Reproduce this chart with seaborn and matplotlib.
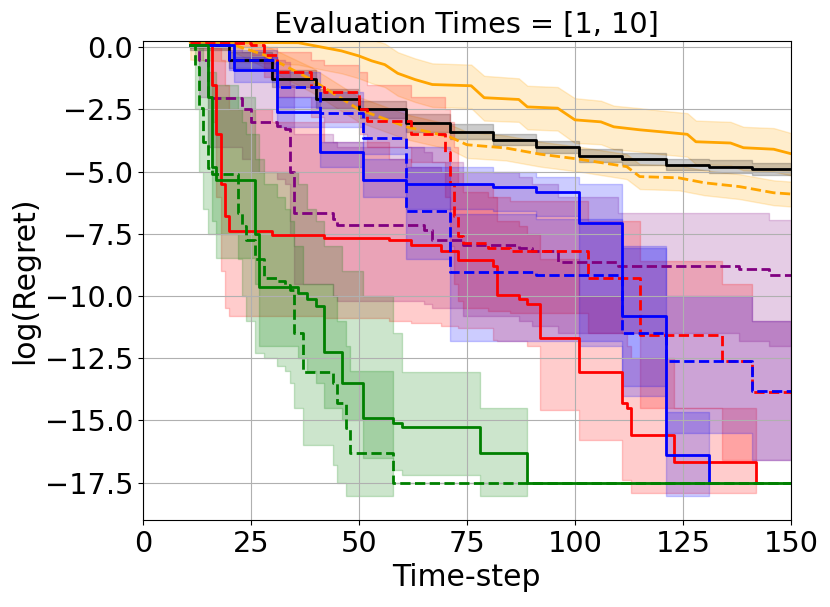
import numpy as np
import pandas as pd
import matplotlib
matplotlib.use("Agg")
import matplotlib.pyplot as plt
import seaborn as sns

# --- data (time-step breakpoints, mean log regret, band low / high) ---
orange_x = [11, 36, 40, 43, 46, 50, 53, 56, 59, 63, 67, 76, 79, 87, 89, 96, 100, 106, 109, 115, 120, 126, 128, 136, 139, 146, 150]
orange_mean = [0.2, 0.18, 0.05, -0.05, -0.15, -0.35, -0.55, -0.7, -1.05, -1.3, -1.5, -1.55, -2.03, -2.1, -2.4, -2.45, -2.92, -3.0, -3.2, -3.32, -3.4, -3.5, -3.8, -3.85, -4.04, -4.1, -4.28]
orange_hi = [0.9, 0.9, 0.85, 0.8, 0.7, 0.5, 0.3, 0.15, -0.2, -0.45, -0.65, -0.7, -1.15, -1.25, -1.55, -1.6, -2.05, -2.15, -2.35, -2.45, -2.55, -2.65, -2.95, -3.0, -3.2, -3.25, -3.45]
orange_lo = [-0.5, -0.7, -0.85, -0.95, -1.05, -1.25, -1.45, -1.6, -1.95, -2.2, -2.4, -2.45, -2.95, -3.0, -3.3, -3.35, -3.85, -3.9, -4.1, -4.2, -4.3, -4.4, -4.7, -4.75, -4.95, -5.0, -5.15]

orange2_x = [11, 20, 28, 39, 50, 61, 71, 75, 84, 92, 101, 112, 115, 124, 130, 138, 146, 150]
orange2_mean = [0.2, 0.15, -0.3, -1.3, -2.5, -3.2, -3.6, -3.92, -4.05, -4.3, -4.5, -4.8, -5.2, -5.25, -5.45, -5.6, -5.85, -5.9]
orange2_hi = [0.25, 0.25, 0.1, -0.8, -2.0, -2.7, -3.1, -3.4, -3.55, -3.8, -4.0, -4.3, -4.7, -4.75, -4.95, -5.1, -5.35, -5.4]
orange2_lo = [0.0, -0.1, -0.8, -1.8, -3.0, -3.7, -4.1, -4.45, -4.55, -4.8, -5.0, -5.3, -5.7, -5.75, -5.95, -6.1, -6.35, -6.4]

black_x = [11, 20, 30, 40, 50, 61, 71, 81, 91, 101, 111, 121, 131, 141, 150]
black_mean = [0.1, -0.53, -1.27, -2.1, -2.5, -3.05, -3.4, -3.72, -4.0, -4.36, -4.5, -4.72, -4.8, -4.9, -4.9]
black_hi = [0.25, -0.2, -0.9, -1.7, -2.15, -2.7, -3.1, -3.5, -3.75, -4.1, -4.25, -4.5, -4.55, -4.65, -4.65]
black_lo = [-0.1, -0.85, -1.6, -2.45, -2.85, -3.4, -3.7, -3.95, -4.25, -4.6, -4.75, -4.95, -5.05, -5.15, -5.15]

purple_x = [11, 13, 15, 23, 25, 31, 33, 34, 35, 44, 45, 65, 67, 74, 87, 90, 96, 110, 138, 145, 150]
purple_mean = [0.1, -0.5, -2.03, -2.5, -3.0, -3.15, -3.3, -5.0, -6.65, -6.9, -7.13, -7.33, -7.73, -7.93, -8.05, -8.2, -8.62, -8.8, -8.9, -9.14, -9.14]
purple_hi = [0.25, 0.2, 0.0, -0.2, -0.4, -0.5, -0.6, -1.5, -3.5, -3.8, -4.0, -4.2, -4.6, -5.0, -5.2, -5.5, -6.0, -6.67, -6.67, -6.93, -6.93]
purple_lo = [0.0, -2.0, -4.0, -4.5, -5.0, -5.3, -5.5, -7.5, -9.5, -10.0, -10.2, -10.3, -10.5, -10.8, -11.0, -11.2, -11.5, -11.5, -11.8, -12.0, -12.0]

red_x = [11, 16, 17, 18, 19, 20, 30, 42, 57, 62, 69, 73, 81, 82, 87, 89, 92, 101, 111, 112, 113, 123, 142]
red_mean = [0.1, -1.5, -3.5, -5.5, -6.8, -7.4, -7.53, -7.65, -7.73, -7.93, -8.2, -8.54, -8.8, -9.95, -10.1, -10.3, -11.67, -13.07, -14.3, -14.48, -15.57, -16.65, -17.5]
red_hi = [0.25, 0.2, 0.0, -0.5, -1.5, -2.5, -3.0, -3.8, -4.5, -4.8, -5.0, -5.5, -6.0, -7.0, -7.2, -7.5, -8.5, -10.0, -11.5, -12.0, -12.5, -14.5, -14.5]
red_lo = [0.0, -3.0, -6.0, -9.0, -10.5, -10.8, -10.8, -10.9, -11.0, -11.1, -11.2, -11.3, -11.75, -11.8, -11.8, -12.0, -14.57, -15.77, -17.4, -17.4, -17.9, -17.9, -17.9]

red2_x = [11, 25, 28, 31, 39, 42, 50, 52, 62, 70, 71, 72, 73, 74, 80, 85, 103, 115, 134, 141, 150]
red2_mean = [0.15, 0.1, -0.3, -1.0, -1.6, -1.8, -2.5, -2.95, -3.5, -4.2, -5.5, -6.8, -7.6, -7.87, -8.06, -8.2, -9.27, -11.55, -12.63, -13.84, -13.9]
red2_hi = [0.25, 0.25, 0.0, -0.2, -0.5, -0.7, -1.0, -1.5, -2.0, -2.5, -3.0, -4.0, -5.0, -5.8, -6.0, -6.2, -7.0, -8.6, -9.5, -11.0, -11.0]
red2_lo = [0.0, -0.3, -1.2, -2.0, -2.8, -3.0, -3.5, -4.0, -4.6, -6.0, -8.0, -9.5, -10.2, -10.5, -10.6, -10.7, -11.5, -14.5, -16.6, -16.6, -16.6]

blue_x = [11, 21, 31, 41, 51, 61, 81, 91, 101, 111, 121, 131]
blue_mean = [0.1, -0.9, -2.6, -4.2, -5.33, -5.5, -5.6, -5.8, -7.07, -10.82, -16.37, -17.5]
blue_hi = [0.25, -0.4, -2.0, -3.8, -4.5, -4.8, -5.0, -5.2, -5.5, -8.0, -14.65, -14.65]
blue_lo = [0.0, -1.4, -3.2, -4.8, -6.0, -6.5, -6.6, -6.8, -12.0, -14.0, -18.05, -18.05]

blue2_x = [11, 20, 31, 41, 51, 61, 71, 91, 111, 121, 141, 150]
blue2_mean = [0.1, -0.5, -1.6, -2.65, -3.65, -6.6, -9.04, -9.14, -11.47, -12.63, -13.8, -13.8]
blue2_hi = [0.25, -0.1, -1.0, -1.8, -2.5, -4.0, -6.7, -6.9, -8.05, -10.0, -11.0, -11.0]
blue2_lo = [0.0, -0.9, -2.4, -3.2, -4.3, -8.5, -11.8, -11.8, -13.6, -15.5, -16.6, -16.6]

green_x = [11, 15, 16, 17, 26, 27, 36, 38, 40, 42, 46, 51, 58, 60, 78, 89, 150]
green_mean = [0.1, -2.0, -4.8, -5.33, -7.5, -9.62, -9.86, -10.1, -10.42, -12.23, -13.5, -14.92, -15.1, -15.28, -16.3, -17.5, -17.5]
green_hi = [0.25, 0.0, -1.0, -2.0, -3.5, -5.0, -5.5, -6.5, -7.0, -8.0, -9.0, -10.0, -11.5, -13.07, -14.5, -17.5, -17.5]
green_lo = [0.0, -4.0, -7.0, -8.46, -9.5, -12.0, -12.5, -13.0, -13.5, -14.5, -15.0, -16.5, -17.0, -17.2, -18.05, -17.5, -17.5]

green2_x = [11, 12, 13, 14, 15, 16, 22, 23, 24, 26, 28, 31, 33, 34, 35, 37, 44, 45, 47, 48, 58, 150]
green2_mean = [0.1, -0.8, -2.45, -3.8, -4.85, -5.1, -6.67, -7.2, -7.73, -8.53, -9.26, -9.4, -9.54, -9.74, -11.5, -13.07, -13.5, -14.28, -15.3, -16.3, -17.5, -17.5]
green2_hi = [0.25, 0.25, 0.0, -0.5, -1.0, -1.5, -2.5, -3.0, -3.5, -4.5, -5.5, -6.0, -6.5, -7.0, -8.0, -9.5, -10.0, -11.0, -12.0, -13.0, -17.5, -17.5]
green2_lo = [0.0, -2.5, -5.0, -6.5, -7.5, -7.5, -8.5, -10.0, -11.0, -12.3, -12.5, -12.8, -13.0, -13.5, -14.5, -16.0, -16.8, -17.5, -18.05, -18.05, -17.5, -17.5]

x_ticks = [0, 25, 50, 75, 100, 125, 150]
y_ticks = [0.0, -2.5, -5.0, -7.5, -10.0, -12.5, -15.0, -17.5]

# (x, mean, lo, hi, colour, linestyle, step drawing?)
series = [
    (orange_x, orange_mean, orange_lo, orange_hi, "orange", "-", False),
    (orange2_x, orange2_mean, orange2_lo, orange2_hi, "orange", "--", False),
    (black_x, black_mean, black_lo, black_hi, "black", "-", True),
    (purple_x, purple_mean, purple_lo, purple_hi, "purple", "--", True),
    (red_x, red_mean, red_lo, red_hi, "red", "-", True),
    (red2_x, red2_mean, red2_lo, red2_hi, "red", "--", True),
    (blue_x, blue_mean, blue_lo, blue_hi, "blue", "-", True),
    (blue2_x, blue2_mean, blue2_lo, blue2_hi, "blue", "--", True),
    (green_x, green_mean, green_lo, green_hi, "green", "-", True),
    (green2_x, green2_mean, green2_lo, green2_hi, "green", "--", True),
]

fig, ax = plt.subplots(figsize=(8.3, 6.07), dpi=100)
fig.subplots_adjust(left=0.172, right=0.953, top=0.9325, bottom=0.1433)

for xs, m, lo, hi, col, ls, stepped in series:
    ax.fill_between(xs, lo, hi, color=col, alpha=0.2,
                    step="post" if stepped else None)

for xs, m, lo, hi, col, ls, stepped in series:
    sns.lineplot(x=xs, y=m, ax=ax, color=col, linestyle=ls, linewidth=2,
                 estimator=None, drawstyle="steps-post" if stepped else "default")

ax.set_xlim(0, 150)
ax.set_ylim(-19.0, 0.25)
ax.set_xticks(x_ticks)
ax.set_yticks(y_ticks)
ax.grid(True)
ax.set_xlabel("Time-step", fontsize=21.5)
ax.set_ylabel("log(Regret)", fontsize=21.5)
ax.set_title("Evaluation Times = [1, 10]", fontsize=20.7)
ax.tick_params(labelsize=20.7)

plt.savefig("out.png", dpi=100)
